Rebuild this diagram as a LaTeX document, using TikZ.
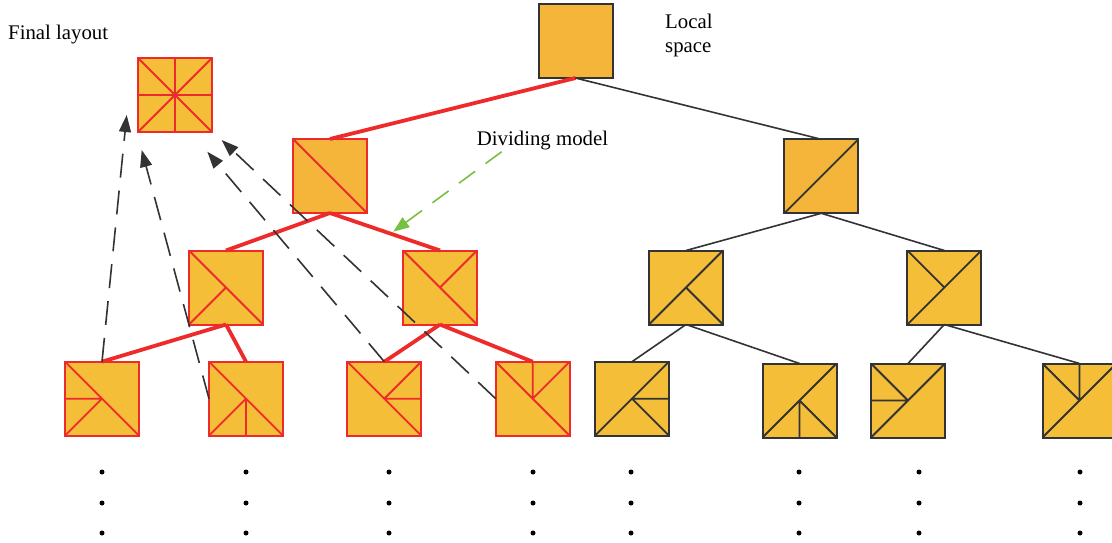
\documentclass[tikz,border=0pt]{standalone}
\usepackage{fontspec}
\setmainfont{Liberation Serif}
\usetikzlibrary{arrows.meta}

\definecolor{cellA}{HTML}{F4B53A}
\definecolor{cellB}{HTML}{F4BE39}
\definecolor{redline}{HTML}{EE2B2B}
\definecolor{darkline}{HTML}{333333}
\definecolor{greenline}{HTML}{78C043}

\tikzset{
  cell/.style={minimum size=74pt, inner sep=0pt, outer sep=0pt, line width=2pt, fill=cellB},
  redcell/.style={cell, draw=redline},
  darkcell/.style={cell, draw=darkline},
  redlink/.style={draw=redline, line width=3.8pt},
  darklink/.style={draw=darkline, line width=1.6pt},
  redsplit/.style={draw=redline, line width=1.8pt},
  darksplit/.style={draw=darkline, line width=1.8pt},
  backarrow/.style={draw=darkline, line width=1.6pt, dash pattern=on 24pt off 13pt,
    -{Triangle[length=17pt,width=12pt]}},
  dividearrow/.style={draw=greenline, line width=1.6pt, dash pattern=on 20pt off 13pt,
    -{Triangle[length=16pt,width=12pt]}},
  label/.style={font=\fontsize{20.8}{25}\selectfont, inner sep=0pt},
  dot/.style={circle, fill=black, inner sep=0pt, minimum size=5pt}
}

\begin{document}
\begin{tikzpicture}[x=1pt, y=-1pt]
\useasboundingbox (0,0) rectangle (1112,543);

% ---- cells ----
\node[darkcell, fill=cellA] (root) at (575.5,41) {};
\node[redcell] (final) at (175,95) {};

\node[redcell, fill=cellA] (aL) at (330,176) {};
\node[darkcell, fill=cellA] (aR) at (821.3,176.3) {};

\node[redcell] (bLL) at (226,287.5) {};
\node[redcell] (bLR) at (440,287.5) {};
\node[darkcell] (bRL) at (686,287.5) {};
\node[darkcell] (bRR) at (944.3,287.5) {};

\node[redcell] (c1) at (102,398.7) {};
\node[redcell] (c2) at (246,398.7) {};
\node[redcell] (c3) at (384.3,398.7) {};
\node[redcell] (c4) at (532.7,398.7) {};
\node[darkcell] (c5) at (632,398.7) {};
\node[darkcell] (c6) at (799.5,400.5) {};
\node[darkcell] (c7) at (908,400.5) {};
\node[darkcell] (c8) at (1079.5,400.5) {};

% ---- splits inside the cells ----
% final layout: both diagonals and both midlines
\draw[redsplit] (final.north west) -- (final.south east)
  (final.south west) -- (final.north east)
  (final.north) -- (final.south)
  (final.west) -- (final.east);

\draw[redsplit] (aL.north west) -- (aL.south east);
\draw[darksplit] (aR.south west) -- (aR.north east);

\draw[redsplit] (bLL.north west) -- (bLL.south east) (bLL.south west) -- (bLL.center);
\draw[redsplit] (bLR.north west) -- (bLR.south east) (bLR.north east) -- (bLR.center);
\draw[darksplit] (bRL.south west) -- (bRL.north east) (bRL.south east) -- (bRL.center);
\draw[darksplit] (bRR.south west) -- (bRR.north east) (bRR.north west) -- (bRR.center);

\draw[redsplit] (c1.north west) -- (c1.south east) (c1.south west) -- (c1.center) (c1.west) -- (c1.center);
\draw[redsplit] (c2.north west) -- (c2.south east) (c2.south west) -- (c2.center) (c2.south) -- (c2.center);
\draw[redsplit] (c3.north west) -- (c3.south east) (c3.north east) -- (c3.center) (c3.east) -- (c3.center);
\draw[redsplit] (c4.north west) -- (c4.south east) (c4.north east) -- (c4.center) (c4.north) -- (c4.center);
\draw[darksplit] (c5.south west) -- (c5.north east) (c5.south east) -- (c5.center) (c5.east) -- (c5.center);
\draw[darksplit] (c6.south west) -- (c6.north east) (c6.south east) -- (c6.center) (c6.south) -- (c6.center);
\draw[darksplit] (c7.south west) -- (c7.north east) (c7.north west) -- (c7.center) (c7.west) -- (c7.center);
\draw[darksplit] (c8.south west) -- (c8.north east) (c8.north west) -- (c8.center) (c8.north) -- (c8.center);

% ---- tree links ----
\draw[redlink] (root.south) -- (aL.north);
\draw[darklink] (root.south) -- (aR.north);
\draw[redlink] (aL.south) -- (bLL.north);
\draw[redlink] (aL.south) -- (bLR.north);
\draw[darklink] (aR.south) -- (bRL.north);
\draw[darklink] (aR.south) -- (bRR.north);
\draw[redlink] (bLL.south) -- (c1.north);
\draw[redlink] (bLL.south) -- (c2.north);
\draw[redlink] (bLR.south) -- (c3.north);
\draw[redlink] (bLR.south) -- (c4.north);
\draw[darklink] (bRL.south) -- (c5.north);
\draw[darklink] (bRL.south) -- (c6.north);
\draw[darklink] (bRR.south) -- (c7.north);
\draw[darklink] (bRR.south) -- (c8.north);

% ---- leaves gathered into the final layout ----
\coordinate (t1) at (126.7,115);
\coordinate (t2) at (141.7,150);
\coordinate (t3) at (207.3,151.7);
\coordinate (t4) at (221.7,140);
\draw[backarrow] (c1.north) -- (t1);
\draw[backarrow] (c2.west) -- (t2);
\draw[backarrow] (c3.north) -- (t3);
\draw[backarrow] (c4.west) -- (t4);

% ---- labels ----
\node[label, anchor=base west] (finaltxt) at (8,40) {Final layout};
\node[label, anchor=base west] (localtxt1) at (665,29) {Local};
\node[label, anchor=base west] (localtxt2) at (665,53) {space};
\node[label, anchor=base] (divtxt) at (542.5,145) {Dividing model};

\coordinate (divstart) at (501.7,151.7);
\coordinate (divtip) at (393.3,231.7);
\draw[dividearrow] (divstart) -- (divtip);

% ---- continuation dots ----
\foreach \cx [count=\i] in {102,246,389,533,631,799,919,1080}{
  \foreach \cy [count=\j] in {472,503,533}{
    \node[dot] (dot\i\j) at (\cx,\cy) {};
  }
}
\end{tikzpicture}
\end{document}
